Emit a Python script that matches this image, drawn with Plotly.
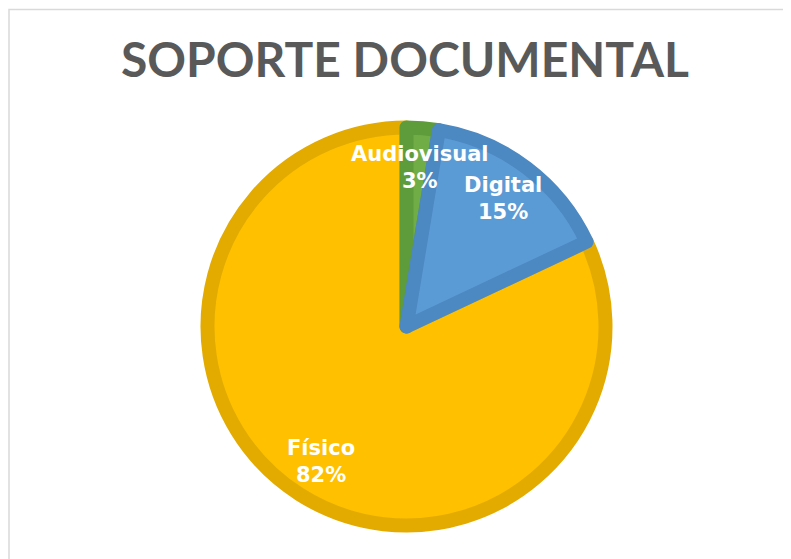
import math
import plotly.graph_objects as go

# ---- data ----
labels = ["Audiovisual", "Digital", "Físico"]
values = [2.6, 15.4, 82.0]
fill_colors = ["#70AD47", "#5B9BD5", "#FFC000"]
edge_colors = ["#5E9B3A", "#4C88C2", "#E3AB00"]
title_text = "SOPORTE DOCUMENTAL"

OFF = 8                               # page body margin
W, H = 791 - OFF, 559 - OFF
cx_px, cy_px = 406.5 - OFF, 326.5 - OFF   # pie centre (px within figure)
stroke = 14
r_path = 206 - stroke / 2             # radius of slice path

# Draw order: Físico, Audiovisual, Digital (clockwise), so the thin slice keeps its width
order = [2, 0, 1]
total = sum(values)
start_angle = sum(values[:2]) / total * 360.0   # Físico starts after Audiovisual+Digital

fig = go.Figure()
fig.add_trace(go.Pie(
    labels=[labels[i] for i in order],
    values=[values[i] for i in order],
    sort=False,
    direction="clockwise",
    rotation=start_angle,
    marker=dict(colors=[fill_colors[i] for i in order],
                line=dict(color=[edge_colors[i] for i in order], width=stroke)),
    textinfo="none",
    hoverinfo="label+percent",
    showlegend=False,
    domain=dict(x=[(cx_px - r_path) / W, (cx_px + r_path) / W],
                y=[(H - cy_px - r_path) / H, (H - cy_px + r_path) / H]),
))

# data labels placed along each slice's mid-angle (clockwise from 12 o'clock)
r_label = 160
cum = 0.0
annotations = []
for lab, v in zip(labels, values):
    mid = (cum + v / 2) / total * 2 * math.pi
    cum += v
    x_px = cx_px + r_label * math.sin(mid)
    y_px = cy_px - r_label * math.cos(mid)
    pct = round(v / total * 100)
    annotations.append(dict(
        x=x_px / W, y=1 - y_px / H, xref="paper", yref="paper",
        text=f"{lab}<br>{pct}%", showarrow=False, align="center",
        xanchor="center", yanchor="middle",
        font=dict(family="DejaVu Sans", size=21, color="white", weight="bold"),
    ))

annotations.append(dict(
    x=(405 - OFF) / W, y=1 - (58 - OFF) / H, xref="paper", yref="paper",
    text=f"<b>{title_text}</b>", showarrow=False,
    xanchor="center", yanchor="middle",
    font=dict(family="Lato", size=48, color="#595959"),
))

fig.update_layout(
    width=W, height=H,
    margin=dict(l=0, r=0, t=0, b=0),
    paper_bgcolor="white",
    plot_bgcolor="white",
    annotations=annotations,
    shapes=[dict(type="rect", xref="paper", yref="paper",
                 x0=1 / W, x1=1.05, y0=-0.05, y1=1 - 1.5 / H,
                 line=dict(color="#D9D9D9", width=1.5), layer="below")],
)

fig.write_html("out.html")
